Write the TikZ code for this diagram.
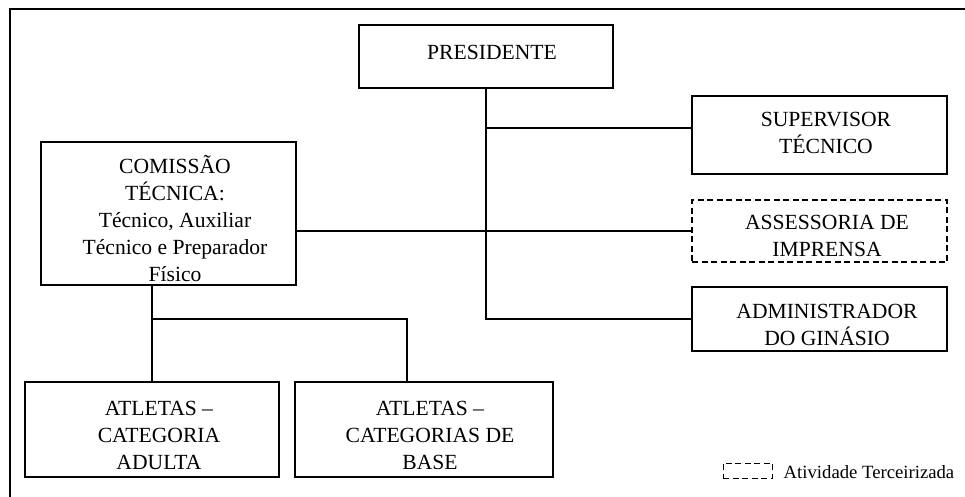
\documentclass[tikz,border=0pt]{standalone}
\usepackage{fontspec}
\setmainfont{Liberation Serif}
\usetikzlibrary{positioning}

\begin{document}
\begin{tikzpicture}[x=1pt,y=-1pt]
	\tikzset{
		box/.style={draw,line width=1.3pt,inner sep=0pt},
		outsourced/.style={box,dash pattern=on 6pt off 3.5pt},
		txt/.style={anchor=north,inner sep=0pt,align=center,font=\fontsize{21.6}{27}\selectfont,execute at begin node=\strut},
		link/.style={draw,line width=2pt},
		frame/.style={draw,line width=2.5pt}
	}
	\clip (0,0) rectangle (965,496);
	\draw[frame] (10,510) |- (980,9);

	% boxes
	\begin{scope}[every node/.style={box}]
		\node[minimum width=254pt,minimum height=63pt] (pres) at (486,56.5) {};
		\node[minimum width=255pt,minimum height=78pt] (sup) at (819.5,135) {};
		\node[outsourced,minimum width=255pt,minimum height=62pt] (ass) at (819.5,231) {};
		\node[minimum width=255pt,minimum height=64pt] (adm) at (819.5,319) {};
		\node[minimum width=255pt,minimum height=143pt] (com) at (168.5,213.5) {};
		\node[minimum width=254pt,minimum height=95pt] (adu) at (152,429.5) {};
		\node[minimum width=258pt,minimum height=95pt] (bas) at (424,429.5) {};
	\end{scope}

	% texts
	\node[txt] (pres-t) at ([shift={(6,16)}]pres.north) {PRESIDENTE};
	\node[txt] (sup-t) at ([shift={(6.5,17)}]sup.north) {SUPERVISOR\\TÉCNICO};
	\node[txt] (ass-t) at ([shift={(7.5,16)}]ass.north) {ASSESSORIA DE\\IMPRENSA};
	\node[txt] (adm-t) at ([shift={(7.5,18)}]adm.north) {ADMINISTRADOR\\DO GINÁSIO};
	\node[txt] (com-t) at ([shift={(6.5,14)}]com.north) {COMISSÃO\\TÉCNICA:\\Técnico, Auxiliar\\Técnico e Preparador\\Físico};
	\node[txt] (adu-t) at ([shift={(7,20)}]adu.north) {ATLETAS –\\CATEGORIA\\ADULTA};
	\node[txt] (bas-t) at ([shift={(6,20)}]bas.north) {ATLETAS –\\CATEGORIAS DE\\BASE};

	% connectors
	\coordinate (jct) at (153,319);
	\draw[link] (pres.south) |- (adm.west);
	\draw[link] (pres.south |- sup.west) ++(0,-7) -- ([yshift=7pt]sup.west);
	\draw[link] (com.east |- ass.west) -- (ass.west);
	\draw[link] (adu.north |- com.south) -- (adu.north);
	\draw[link] (jct) -| ([xshift=-17pt]bas.north);

	% legend
	\node[outsourced,line width=1pt,minimum width=49pt,minimum height=15pt] (key) at (747.5,470.5) {};
	\node[anchor=base west,inner sep=0pt,font=\fontsize{18.7}{22}\selectfont] (key-t) at ([xshift=11pt]key.south east) {Atividade Terceirizada};
\end{tikzpicture}
\end{document}
